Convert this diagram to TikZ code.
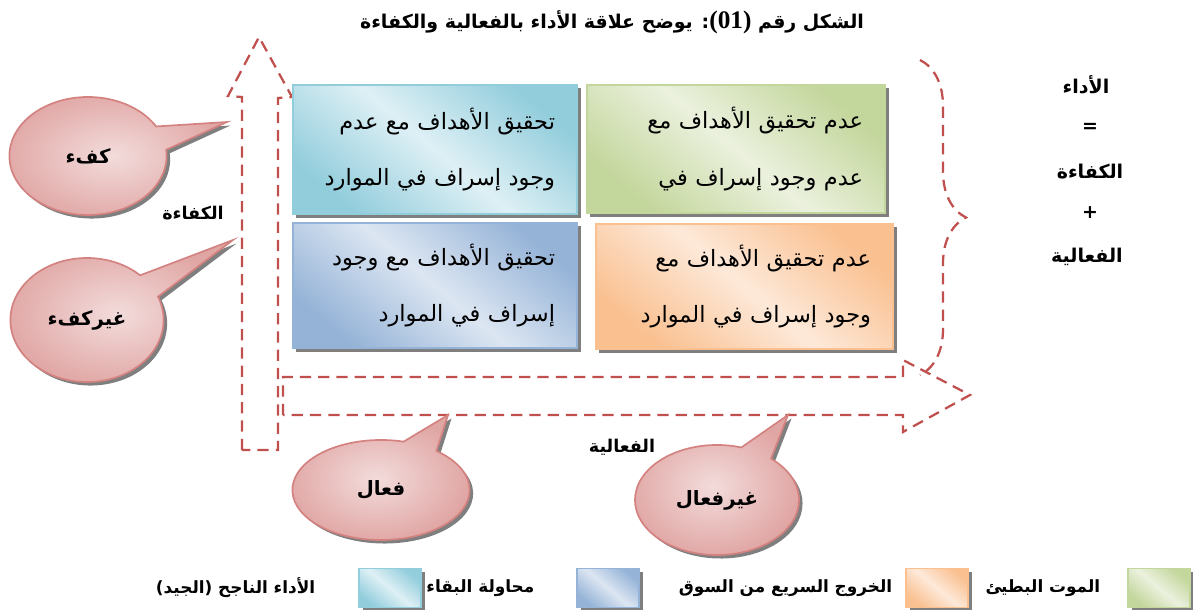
\documentclass[tikz,border=0pt]{standalone}
\usepackage{fontspec}
\usetikzlibrary{positioning,shapes.callouts,shadows,decorations.pathreplacing}
\TeXXeTstate=1
\newfontfamily\arabicfont[Script=Arabic]{DejaVu Sans}
\newfontfamily\latinfont{Liberation Serif}
\definecolor{dashred}{RGB}{192,80,77}
\definecolor{cyanL}{RGB}{222,240,245}
\definecolor{cyanD}{RGB}{146,205,220}
\definecolor{greenL}{RGB}{235,241,222}
\definecolor{greenD}{RGB}{195,214,155}
\definecolor{blueL}{RGB}{220,230,242}
\definecolor{blueD}{RGB}{149,179,215}
\definecolor{orangeL}{RGB}{253,233,217}
\definecolor{orangeD}{RGB}{250,192,144}
\definecolor{pinkL}{RGB}{242,220,219}
\definecolor{pinkD}{RGB}{224,166,164}
\definecolor{pinkLine}{RGB}{212,130,128}
\begin{document}
\begin{tikzpicture}[x=0.025cm,y=-0.025cm,
  arrowline/.style={draw=dashred,line width=1.6pt,dash pattern=on 8pt off 5pt},
  shade/.style={drop shadow={shadow xshift=2.5pt,shadow yshift=-2.5pt,fill=black,opacity=0.5}},
  cell/.style 2 args={draw=#2,line width=1.5pt,top color=#2,bottom color=#2,middle color=#1,
    shading angle=-40,shade,align=right,inner xsep=0.55cm,inner ysep=0pt,
    font=\arabicfont\fontsize{16}{40}\selectfont},
  bubble/.style={ellipse callout,draw=pinkLine,line width=1.2pt,inner color=pinkL,outer color=pinkD,
    shade,callout pointer arc=24,inner sep=0pt,font=\arabicfont\bfseries\fontsize{14}{16}\selectfont},
  key/.style 2 args={draw=#2,line width=1.2pt,top color=#2,bottom color=#2,middle color=#1,
    shading angle=-40,shade,minimum width=1.55cm,minimum height=0.98cm},
  lbl/.style={font=\arabicfont\bfseries\fontsize{12.5}{15}\selectfont},
  keytext/.style={font=\arabicfont\bfseries\fontsize{12}{14}\selectfont}]
\useasboundingbox (0,0) rectangle (1193,610);

\node[lbl,font=\arabicfont\bfseries\fontsize{13.5}{16}\selectfont] (T) at (612,22){\beginR الشكل رقم \beginL{\latinfont\bfseries\fontsize{18}{18}\selectfont(01)}\endL: يوضح علاقة الأداء بالفعالية والكفاءة\endR};

% the two axes and the brace
\draw[arrowline] (242,450) -- (242,97) -- (228,96) -- (259,37) -- (292,97) -- (278,98) -- (278,450) -- cycle;
\draw[arrowline] (283,415) -- (283,377) -- (903,377) -- (903,360) -- (970,395) -- (903,432) -- (903,415) -- cycle;
\draw[arrowline,decorate,decoration={brace,amplitude=1.15cm}] (920,60) -- (920,375);

\node[cell={cyanL}{cyanD},text width=6cm,minimum height=3.225cm] (C1) at (435,149.5){\beginR تحقيق الأهداف مع عدم\endR\\\beginR وجود إسراف في الموارد\endR};
\node[cell={greenL}{greenD},text width=6.35cm,minimum height=3.2cm] (C2) at (736,149){\beginR عدم تحقيق الأهداف مع\endR\\\beginR عدم وجود إسراف في\endR};
\node[cell={blueL}{blueD},text width=6cm,minimum height=3.125cm] (C3) at (435,285.5){\beginR تحقيق الأهداف مع وجود\endR\\\beginR إسراف في الموارد\endR};
\node[cell={orangeL}{orangeD},text width=6.325cm,minimum height=3.125cm] (C4) at (744.5,286.5){\beginR عدم تحقيق الأهداف مع\endR\\\beginR وجود إسراف في الموارد\endR};

\node[lbl,font=\arabicfont\bfseries\fontsize{13.5}{16}\selectfont] (A1) at (1086,85){\beginR الأداء\endR};
\node[lbl,font=\arabicfont\bfseries\fontsize{13.5}{16}\selectfont] (A2) at (1090,128){=};
\node[lbl,font=\arabicfont\bfseries\fontsize{13.5}{16}\selectfont] (A3) at (1090,172){\beginR الكفاءة\endR};
\node[lbl,font=\arabicfont\bfseries\fontsize{13.5}{16}\selectfont] (A4) at (1090,213){+};
\node[lbl,font=\arabicfont\bfseries\fontsize{13.5}{16}\selectfont] (A5) at (1087,257){\beginR الفعالية\endR};

\node[lbl] (Kf) at (193,213){\beginR الكفاءة\endR};
\node[lbl] (Fa) at (622,447){\beginR الفعالية\endR};

% callouts
\coordinate (tK1) at (227,122);
\coordinate (tK2) at (233,240);
\coordinate (tF1) at (448,415);
\coordinate (tF2) at (788,415);
\node[bubble,minimum width=3.93cm,minimum height=2.95cm,callout absolute pointer={(tK1)}] (K1) at (88,156){\beginR كفء\endR};
\node[bubble,minimum width=3.83cm,minimum height=3.1cm,callout absolute pointer={(tK2)}] (K2) at (87,320){\beginR غيركفء\endR};
\node[bubble,minimum width=4.43cm,minimum height=2.5cm,callout absolute pointer={(tF1)}] (F1) at (381,490){\beginR فعال\endR};
\node[bubble,minimum width=4.1cm,minimum height=2.75cm,callout absolute pointer={(tF2)}] (F2) at (717,500){\beginR غيرفعال\endR};

% legend
\node[key={greenL}{greenD}] (L1) at (1159,588){};
\node[key={orangeL}{orangeD}] (L2) at (937,588){};
\node[key={blueL}{blueD}] (L3) at (608,588){};
\node[key={cyanL}{cyanD}] (L4) at (390,588){};
\node[keytext,left=0.55cm of L1] (N1){\beginR الموت البطيئ\endR};
\node[keytext,left=0.2cm of L2] (N2){\beginR الخروج السريع من السوق\endR};
\node[keytext,left=0.92cm of L3] (N3){\beginR محاولة البقاء\endR};
\node[keytext,left=0.95cm of L4] (N4){\beginR الأداء الناجح (الجيد)\endR};
\end{tikzpicture}
\end{document}
